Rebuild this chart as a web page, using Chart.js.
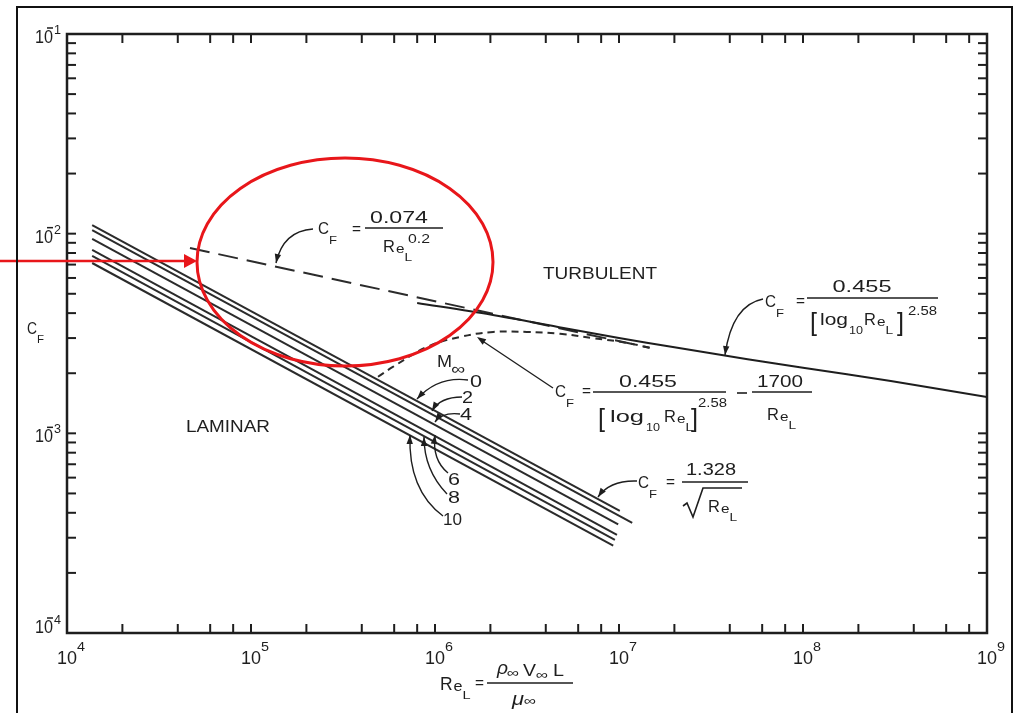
<!DOCTYPE html>
<html>
<head>
<meta charset="utf-8">
<title>Skin friction coefficient</title>
<script src="https://cdn.jsdelivr.net/npm/chart.js@4.4.0/dist/chart.umd.min.js"></script>
<style>
	html, body { margin: 0; padding: 0; background: #fff; }
	canvas { display: block; }
</style>
</head>
<body>
<canvas id="cfChart" width="1015" height="713"></canvas>
<script>
// laminar lines, one per Mach number (start / end points)
var machLabels = ['0', '2', '4', '6', '8', '10'];
var lamStartRe = [1.37e4, 1.37e4, 1.37e4, 1.37e4, 1.37e4, 1.37e4];
var lamStartCf = [0.01105, 0.01043, 0.00941, 0.00829, 0.00773, 0.00713];
var lamEndRe = [1.01e7, 1.18e7, 9.9e6, 9.75e6, 9.5e6, 9.3e6];
var lamEndCf = [4.09e-4, 3.56e-4, 3.50e-4, 3.10e-4, 2.93e-4, 2.74e-4];
// turbulent 0.455/(log Re)^2.58
var turbRe = [8.0e5, 2e6, 5e6, 1e7, 2e7, 5e7, 1e8, 3e8, 1e9];
var turbCf = [4.50e-3, 3.94e-3, 3.37e-3, 3.00e-3, 2.70e-3, 2.35e-3, 2.13e-3, 1.83e-3, 1.52e-3];
// 0.074/Re^0.2
var prandtlRe = [4.66e4, 1.47e7];
var prandtlCf = [8.48e-3, 2.68e-3];
// transition curve
var transRe = [4.9e5, 5.9e5, 9.05e5, 1.37e6, 2.07e6, 3.16e6, 4.78e6, 7.22e6, 1.1e7, 1.47e7];
var transCf = [1.92e-3, 2.15e-3, 2.71e-3, 3.04e-3, 3.22e-3, 3.22e-3, 3.15e-3, 3.00e-3, 2.84e-3, 2.68e-3];
// axis ticks
var xMajor = [1e4, 1e5, 1e6, 1e7, 1e8, 1e9];
var xExp = ['4', '5', '6', '7', '8', '9'];
var xMinorMult = [2, 4, 6, 8];
var yMajor = [1e-1, 1e-2, 1e-3, 1e-4];
var yExp = ['1', '2', '3', '4'];
var yMinorMult = [2, 3, 4, 5, 6, 7, 8, 9];

var FONT = '"Liberation Sans", Arial, sans-serif';
var INK = '#1e1e1e';

function pts(xs, ys) {
	return xs.map(function (x, i) { return { x: x, y: ys[i] }; });
}
function txt(ctx, s, x, y, size, w, align, italic) {
	ctx.save();
	ctx.font = (italic ? 'italic ' : '') + size + 'px ' + FONT;
	var mw = ctx.measureText(s).width;
	var sx = w ? w / mw : 1.1;
	var tw = mw * sx;
	var x0 = align === 'center' ? x - tw / 2 : (align === 'right' ? x - tw : x);
	ctx.translate(x0, y);
	ctx.scale(sx, 1);
	ctx.textAlign = 'left';
	ctx.textBaseline = 'alphabetic';
	ctx.fillText(s, 0, 0);
	ctx.restore();
	return x0 + tw;
}
function line(ctx, x0, y0, x1, y1, lw) {
	ctx.lineWidth = lw || 1.5;
	ctx.beginPath();
	ctx.moveTo(x0, y0);
	ctx.lineTo(x1, y1);
	ctx.stroke();
}
function arrowHead(ctx, x, y, ang) {
	ctx.save();
	ctx.translate(x, y);
	ctx.rotate(ang);
	ctx.beginPath();
	ctx.moveTo(0, 0);
	ctx.lineTo(-9, -3.2);
	ctx.lineTo(-9, 3.2);
	ctx.closePath();
	ctx.fill();
	ctx.restore();
}
function curveArrow(ctx, x0, y0, cx, cy, x1, y1) {
	ctx.lineWidth = 1.4;
	ctx.beginPath();
	ctx.moveTo(x0, y0);
	ctx.quadraticCurveTo(cx, cy, x1, y1);
	ctx.stroke();
	arrowHead(ctx, x1, y1, Math.atan2(y1 - cy, x1 - cx));
}
// C with subscript F
function cf(ctx, x, y) {
	var e = txt(ctx, 'C', x, y, 16, 11);
	txt(ctx, 'F', e, y + 10, 11, 8);
}
// R e L (Reynolds number on length)
function reL(ctx, x, y, size) {
	var e = txt(ctx, 'R', x, y, size, size * 0.7);
	e = txt(ctx, 'e', e + 1, y + 1, size * 0.8, size * 0.5);
	txt(ctx, 'L', e, y + 9, size * 0.62, size * 0.45);
}

var decor = {
	id: 'decor',
	afterDraw: function (chart) {
		var ctx = chart.ctx, a = chart.chartArea;
		var xs = chart.scales.x, ys = chart.scales.y;
		ctx.save();
		ctx.strokeStyle = INK;
		ctx.fillStyle = INK;
		ctx.lineCap = 'butt';
		// frame and ticks
		ctx.lineWidth = 2.5;
		ctx.strokeRect(a.left, a.top, a.right - a.left, a.bottom - a.top);
		var tk = 9;
		ctx.lineWidth = 2;
		xMajor.forEach(function (v, i) {
			var list = [v];
			if (i < xMajor.length - 1) xMinorMult.forEach(function (m) { list.push(v * m); });
			list.forEach(function (t) {
				var px = xs.getPixelForValue(t);
				line(ctx, px, a.bottom, px, a.bottom - tk, 2);
				line(ctx, px, a.top, px, a.top + tk, 2);
			});
		});
		yMajor.forEach(function (v, i) {
			var list = [v];
			if (i > 0) yMinorMult.forEach(function (m) { list.push(v * m); });
			list.forEach(function (t) {
				var py = ys.getPixelForValue(t);
				line(ctx, a.left, py, a.left + tk, py, 2);
				line(ctx, a.right, py, a.right - tk, py, 2);
			});
		});
		// tick labels
		xMajor.forEach(function (v, i) {
			var px = xs.getPixelForValue(v);
			txt(ctx, '10', px, 664, 18, 20, 'center');
			txt(ctx, xExp[i], px + 10, 651, 12, 8);
		});
		yMajor.forEach(function (v, i) {
			var py = ys.getPixelForValue(v);
			var by = Math.min(py + 9, a.bottom);
			txt(ctx, '10', 53, by, 18, 18, 'right');
			line(ctx, 47, by - 15, 53, by - 15, 1.5);
			txt(ctx, yExp[i], 54, by - 9, 12, 7);
		});
		// axis titles
		txt(ctx, 'C', 27, 334, 16, 10);
		txt(ctx, 'F', 37, 343, 11, 7);
		reL(ctx, 440, 690, 18);
		txt(ctx, '=', 475, 688, 16, 9);
		line(ctx, 487, 683, 573, 683, 1.5);
		var e = txt(ctx, 'ρ', 497, 674, 19, 11, 'left', true);
		e = txt(ctx, '∞', e - 1, 677, 13, 12);
		e = txt(ctx, 'V', e + 4, 676, 17, 13);
		e = txt(ctx, '∞', e, 679, 13, 12);
		txt(ctx, 'L', e + 5, 676, 17, 11);
		e = txt(ctx, 'μ', 512, 705, 19, 12, 'left', true);
		txt(ctx, '∞', e, 705, 13, 12);

		// region labels
		txt(ctx, 'TURBULENT', 600, 279, 17, 114, 'center');
		txt(ctx, 'LAMINAR', 228, 432, 17, 84, 'center');

		// C_F = 0.074 / Re^0.2
		cf(ctx, 318, 234);
		txt(ctx, '=', 352, 234, 16, 9);
		line(ctx, 365, 228, 443, 228, 1.6);
		txt(ctx, '0.074', 399, 223, 17, 58, 'center');
		reL(ctx, 383, 252, 17);
		txt(ctx, '0.2', 408, 243, 12, 22);
		curveArrow(ctx, 313, 229, 283, 231, 276, 263);

		// C_F = 0.455 / [log10 Re]^2.58 (turbulent)
		cf(ctx, 765, 307);
		txt(ctx, '=', 796, 306, 16, 9);
		line(ctx, 807, 298, 938, 298, 1.6);
		txt(ctx, '0.455', 862, 292, 17, 59, 'center');
		txt(ctx, '[', 810, 331, 26, 7);
		e = txt(ctx, 'log', 820, 325, 17, 28);
		e = txt(ctx, '10', e + 1, 334, 11, 14);
		reL(ctx, e + 1, 325, 17);
		txt(ctx, ']', 897, 331, 26, 7);
		txt(ctx, '2.58', 908, 315, 12, 29);
		curveArrow(ctx, 763, 299, 732, 305, 725, 355);

		// C_F = 0.455 / [log10 Re]^2.58 - 1700 / Re (transition)
		cf(ctx, 555, 397);
		txt(ctx, '=', 582, 396, 16, 9);
		line(ctx, 593, 392, 726, 392, 1.6);
		txt(ctx, '0.455', 648, 387, 17, 58, 'center');
		txt(ctx, '[', 598, 427, 26, 7);
		e = txt(ctx, 'log', 610, 422, 17, 34);
		e = txt(ctx, '10', e + 2, 431, 11, 14);
		reL(ctx, e + 4, 422, 17);
		txt(ctx, ']', 691, 427, 26, 7);
		txt(ctx, '2.58', 698, 407, 12, 29);
		line(ctx, 737, 393, 747, 393, 1.6);
		line(ctx, 752, 392, 812, 392, 1.6);
		txt(ctx, '1700', 780, 387, 17, 46, 'center');
		reL(ctx, 767, 420, 17);
		ctx.lineWidth = 1.4;
		line(ctx, 553, 388, 484, 342, 1.4);
		arrowHead(ctx, 477, 337, Math.atan2(337 - 388, 477 - 553));

		// C_F = 1.328 / sqrt(Re)
		cf(ctx, 638, 488);
		txt(ctx, '=', 666, 487, 16, 9);
		line(ctx, 682, 482, 748, 482, 1.6);
		txt(ctx, '1.328', 711, 475, 17, 50, 'center');
		ctx.lineWidth = 1.6;
		ctx.beginPath();
		ctx.moveTo(683, 506);
		ctx.lineTo(687, 503);
		ctx.lineTo(693, 517);
		ctx.lineTo(703, 488);
		ctx.lineTo(742, 488);
		ctx.stroke();
		reL(ctx, 708, 512, 17);
		curveArrow(ctx, 637, 481, 610, 480, 598, 497);

		// Mach number labels
		txt(ctx, 'M', 437, 367, 17, 15);
		txt(ctx, '∞', 451, 374, 15, 14);
		txt(ctx, '0', 470, 387, 17, 12);
		txt(ctx, '2', 462, 403, 17, 11);
		txt(ctx, '4', 460, 420, 17, 12);
		txt(ctx, '6', 448, 485, 17, 12);
		txt(ctx, '8', 448, 503, 17, 12);
		txt(ctx, '10', 443, 525, 17, 19);
		curveArrow(ctx, 468, 380, 438, 376, 417, 399);
		curveArrow(ctx, 462, 397, 440, 397, 432, 411);
		curveArrow(ctx, 460, 414, 442, 412, 435, 422);
		curveArrow(ctx, 448, 473, 432, 460, 435, 435);
		curveArrow(ctx, 447, 494, 424, 470, 424, 437);
		curveArrow(ctx, 443, 516, 408, 490, 410, 435);

		// red highlight
		ctx.strokeStyle = '#e8161a';
		ctx.fillStyle = '#e8161a';
		ctx.lineWidth = 3;
		ctx.beginPath();
		ctx.ellipse(345, 262, 148, 104, 0, 0, Math.PI * 2);
		ctx.stroke();
		line(ctx, 0, 261, 188, 261, 2.5);
		ctx.beginPath();
		ctx.moveTo(197, 261);
		ctx.lineTo(184, 254);
		ctx.lineTo(184, 268);
		ctx.closePath();
		ctx.fill();

		// page border
		ctx.strokeStyle = '#111';
		ctx.lineWidth = 2;
		ctx.strokeRect(17, 7, 995, 720);
		ctx.restore();
	}
};

var datasets = [];
machLabels.forEach(function (m, i) {
	datasets.push({
		label: 'M∞ = ' + m,
		data: [{ x: lamStartRe[i], y: lamStartCf[i] }, { x: lamEndRe[i], y: lamEndCf[i] }],
		borderColor: '#2b2b2b',
		borderWidth: 2,
		pointRadius: 0
	});
});
datasets.push({
	label: 'Turbulent',
	data: pts(turbRe, turbCf),
	borderColor: '#1e1e1e',
	borderWidth: 2,
	tension: 0.3,
	pointRadius: 0
});
datasets.push({
	label: '0.074/Re^0.2',
	data: pts(prandtlRe, prandtlCf),
	borderColor: '#2b2b2b',
	borderWidth: 2,
	borderDash: [20, 9],
	pointRadius: 0
});
datasets.push({
	label: 'Transition',
	data: pts(transRe, transCf),
	borderColor: '#2b2b2b',
	borderWidth: 2,
	borderDash: [7, 5],
	tension: 0.4,
	pointRadius: 0
});

var ctx = document.getElementById('cfChart').getContext('2d');
var cfChart = new Chart(ctx, {
	type: 'line',
	data: { datasets: datasets },
	options: {
		responsive: false,
		animation: false,
		events: [],
		layout: { padding: { left: 67, right: 28, top: 34, bottom: 80 } },
		plugins: { legend: { display: false }, tooltip: { enabled: false } },
		scales: {
			x: { type: 'logarithmic', min: 1e4, max: 1e9, display: false },
			y: { type: 'logarithmic', min: 1e-4, max: 1e-1, display: false }
		}
	},
	plugins: [decor]
});
</script>
</body>
</html>
